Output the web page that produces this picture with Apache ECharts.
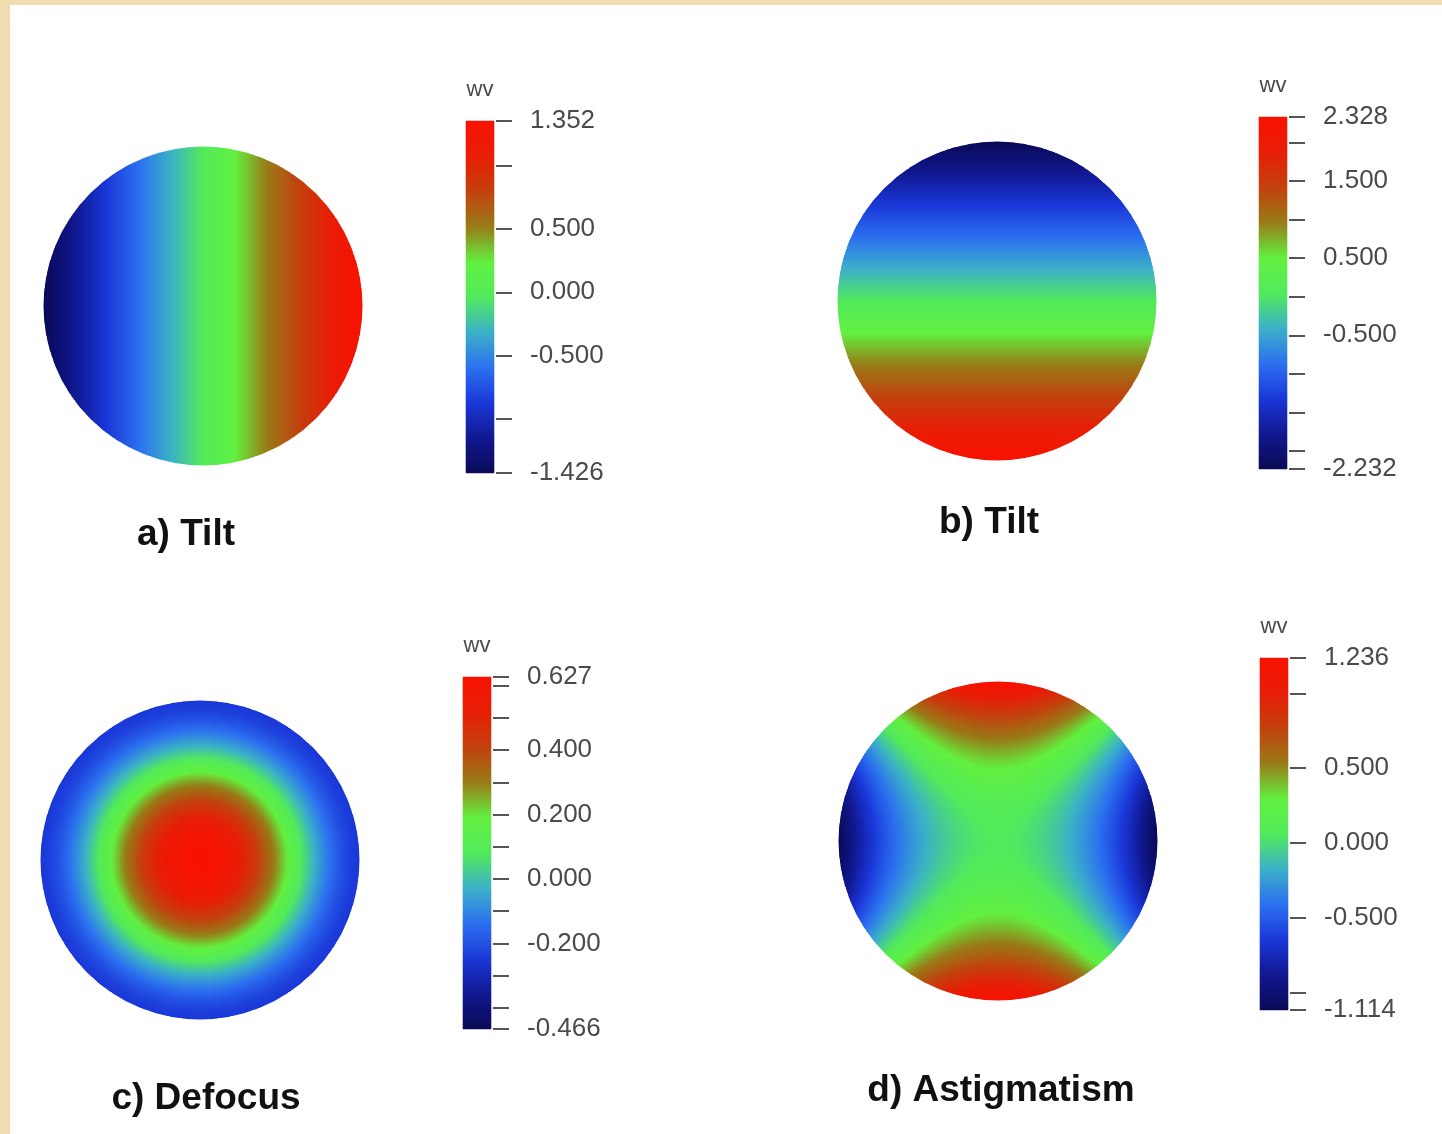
<!doctype html>
<html>
<head>
<meta charset="UTF-8">
<title>Zernike terms</title>
<style>
	html, body { margin: 0; padding: 0; background: #f1dcb0; }
	.paper { position: absolute; left: 10px; top: 5px; width: 1432px; height: 1129px; background: #fff; }
	#main { position: absolute; left: 0; top: 0; width: 1442px; height: 1134px; }
</style>
</head>
<body>
<div class="paper"></div>
<div id="main"></div>
<script src="https://cdn.jsdelivr.net/npm/echarts@6/dist/echarts.min.js"></script>
<script>
// panel texts and colour scale ranges (wv)
var titles = ['a) Tilt', 'b) Tilt', 'c) Defocus', 'd) Astigmatism'];
var scaleMin = [-1.426, -2.232, -0.466, -1.114];
var scaleMax = [1.352, 2.328, 0.627, 1.236];
var labelValues = [
	[1.352, 0.5, 0, -0.5, -1.426],
	[2.328, 1.5, 0.5, -0.5, -2.232],
	[0.627, 0.4, 0.2, 0, -0.2, -0.466],
	[1.236, 0.5, 0, -0.5, -1.114]
];
var tickValues = [
	[1.352, 1, 0.5, 0, -0.5, -1, -1.426],
	[2.328, 2, 1.5, 1, 0.5, 0, -0.5, -1, -1.5, -2, -2.232],
	[0.627, 0.6, 0.5, 0.4, 0.3, 0.2, 0.1, 0, -0.1, -0.2, -0.3, -0.4, -0.466],
	[1.236, 1, 0.5, 0, -0.5, -1, -1.114]
];
// wavefront coefficients per panel (unit pupil, x right, y up)
var piston = [-0.037, 0.048, 0.627, 0.061];
var tiltX = [1.389, 0, 0, 0];
var tiltY = [0, -2.280, 0, 0];
var radial2 = [0, 0, -1.694, 0];
var radial4 = [0, 0, 0.820, 0];
var astig = [0, 0, 0, 1.175];

// layout
var diskPos = [[43, 146], [837, 141], [40, 700], [838, 681]];
var barPos = [[466, 121], [1259, 117], [463, 677], [1260, 658]];
var titlePos = [[186, 535], [989, 523], [206, 1099], [1001, 1091]];
var DISK = 320, N = 160, BAR_W = 28, BAR_H = 352, K = 176;

var jet = ['#0a0a55', '#111890', '#1b38d8', '#2c70f0', '#3cb0c8', '#52ea5c',
	'#62f040', '#987c18', '#c2420e', '#e81e06', '#f81200'];
var font = "'Liberation Sans', Arial, sans-serif";

function idx(n) {
	var a = [];
	for(var i = 0; i < n; i++) a.push(i);
	return a;
}

function pupilData(p) {
	var out = [];
	for(var ix = 0; ix < N; ix++) {
		for(var iy = 0; iy < N; iy++) {
			var x = (ix + 0.5) / N * 2 - 1;
			var y = (iy + 0.5) / N * 2 - 1;
			var u = x * x + y * y;
			if(u > 1) continue;
			var v = piston[p] + tiltX[p] * x + tiltY[p] * y + radial2[p] * u +
				radial4[p] * u * u + astig[p] * (y * y - x * x);
			out.push([ix, iy, v]);
		}
	}
	return out;
}

function barData(p) {
	var out = [];
	for(var k = 0; k < K; k++) {
		out.push([0, k, scaleMin[p] + (k + 0.5) / K * (scaleMax[p] - scaleMin[p])]);
	}
	return out;
}

var grids = [], xAxes = [], yAxes = [], series = [], visualMaps = [], graphics = [];
var p;
for(p = 0; p < 4; p++) {
	grids.push({ left: diskPos[p][0], top: diskPos[p][1], width: DISK, height: DISK });
	xAxes.push({ gridIndex: p, type: 'category', data: idx(N), show: false });
	yAxes.push({ gridIndex: p, type: 'category', data: idx(N), show: false });
	series.push({
		type: 'heatmap', xAxisIndex: p, yAxisIndex: p, data: pupilData(p),
		progressive: 0, emphasis: { disabled: true }
	});
}
for(p = 0; p < 4; p++) {
	grids.push({ left: barPos[p][0], top: barPos[p][1], width: BAR_W, height: BAR_H });
	xAxes.push({ gridIndex: 4 + p, type: 'category', data: ['wv'], show: false });
	yAxes.push({ gridIndex: 4 + p, type: 'category', data: idx(K), show: false });
	series.push({
		type: 'heatmap', xAxisIndex: 4 + p, yAxisIndex: 4 + p, data: barData(p),
		progressive: 0, emphasis: { disabled: true }
	});
}
for(p = 0; p < 4; p++) {
	yAxes.push({
		gridIndex: 4 + p, type: 'value', position: 'right', offset: 2,
		min: scaleMin[p], max: scaleMax[p],
		axisLine: { show: false },
		splitLine: { show: false },
		axisTick: {
			show: true, length: 16, customValues: tickValues[p],
			lineStyle: { color: '#555', width: 2 }
		},
		axisLabel: {
			customValues: labelValues[p], margin: 34,
			color: '#4a4a4a', fontSize: 26, fontFamily: font,
			formatter: function(v) { return Number(v).toFixed(3); }
		}
	});
	visualMaps.push({
		type: 'continuous', show: false, seriesIndex: [p, 4 + p], dimension: 2,
		min: scaleMin[p], max: scaleMax[p], inRange: { color: jet }
	});
}

for(p = 0; p < 4; p++) {
	// white ring that smooths the stepped pupil rim
	graphics.push({
		type: 'circle', z: 100, silent: true,
		shape: { cx: diskPos[p][0] + DISK / 2, cy: diskPos[p][1] + DISK / 2, r: DISK / 2 + 1.5 },
		style: { fill: null, stroke: '#fff', lineWidth: 4 }
	});
	graphics.push({
		type: 'text', x: barPos[p][0] + BAR_W / 2, y: barPos[p][1] - 20,
		style: {
			text: 'wv', fill: '#4a4a4a', font: '22px ' + font,
			textAlign: 'center', textVerticalAlign: 'bottom'
		}
	});
	graphics.push({
		type: 'text', x: titlePos[p][0], y: titlePos[p][1],
		style: {
			text: titles[p], fill: '#111', font: 'bold 37px ' + font,
			textAlign: 'center', textVerticalAlign: 'middle'
		}
	});
}

var chart = echarts.init(document.getElementById('main'));
chart.setOption({
	animation: false,
	grid: grids,
	xAxis: xAxes,
	yAxis: yAxes,
	visualMap: visualMaps,
	series: series,
	graphic: graphics
});
</script>
</body>
</html>
